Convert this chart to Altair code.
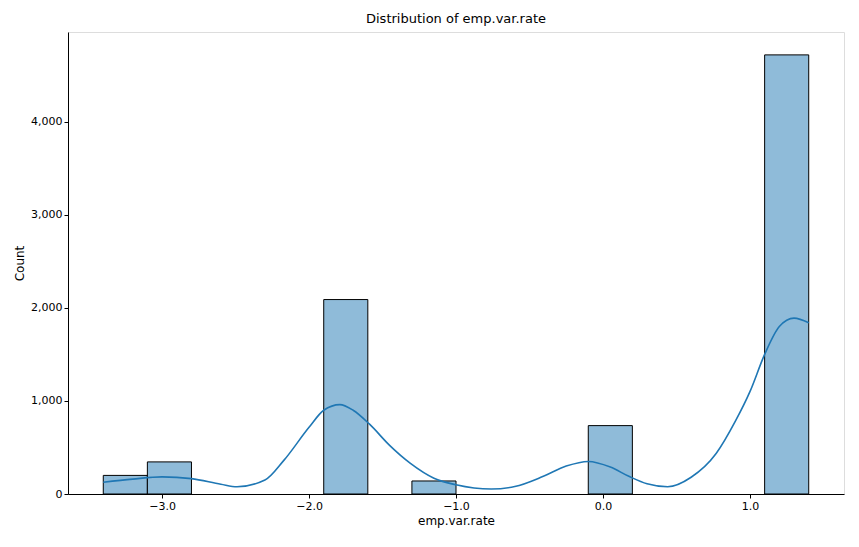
import pandas as pd
import altair as alt

# histogram bins (width 0.3) and counts
bin_start = [-3.4, -3.1, -1.9, -1.3, -0.1, 1.1]
bin_end = [-3.1, -2.8, -1.6, -1.0, 0.2, 1.4]
counts = [200, 345, 2090, 140, 735, 4720]

# kde curve
kde_x = [-3.4, -3.2, -3.0, -2.8, -2.6, -2.49, -2.3, -2.17, -2.0, -1.9, -1.79, -1.7, -1.59,
         -1.45, -1.31, -1.15, -1.0, -0.76, -0.6, -0.41, -0.25, -0.1, 0.05, 0.18, 0.3, 0.44,
         0.6, 0.77, 0.9, 1.0, 1.1, 1.2, 1.3, 1.4]
kde_y = [127, 160, 184, 165, 105, 78, 150, 364, 717, 900, 961, 900, 753,
         520, 329, 170, 99, 53, 80, 187, 300, 350, 290, 187, 110, 78,
         180, 435, 780, 1100, 1500, 1800, 1890, 1840]

bars_df = pd.DataFrame({"x0": bin_start, "x1": bin_end, "count": counts})
kde_df = pd.DataFrame({"x": kde_x, "y": kde_y})

xscale = alt.Scale(domain=[-3.64, 1.64], nice=False, zero=False)
yscale = alt.Scale(domain=[0, 4966], nice=False)

xaxis = alt.Axis(values=[-3, -2, -1, 0, 1], grid=False, tickColor="black", domainColor="black",
                 labelColor="black", titleColor="black", labelFontSize=11, titleFontSize=12,
                 titleFontWeight="normal", tickSize=4, labelPadding=2)
yaxis = alt.Axis(values=[0, 1000, 2000, 3000, 4000], grid=False, tickColor="black",
                 domainColor="black", labelColor="black", titleColor="black", labelFontSize=11,
                 titleFontSize=12, titleFontWeight="normal", tickSize=4, labelPadding=2)

bars = alt.Chart(bars_df).mark_rect(color="#8fbbd9", stroke="black", strokeWidth=1).encode(
    x=alt.X("x0:Q", scale=xscale, axis=xaxis, title="emp.var.rate"),
    x2="x1:Q",
    y=alt.Y("count:Q", scale=yscale, axis=yaxis, title="Count"),
    y2=alt.datum(0),
)

kde = alt.Chart(kde_df).mark_line(color="#1f77b4", strokeWidth=1.6, interpolate="monotone").encode(
    x=alt.X("x:Q", scale=xscale),
    y=alt.Y("y:Q", scale=yscale),
)

chart = (bars + kde).properties(
    width=776, height=462,
    title=alt.TitleParams("Distribution of emp.var.rate", fontSize=13, fontWeight="normal",
                          color="black", offset=6),
).configure_view(stroke="black", strokeWidth=1).configure(font="DejaVu Sans")

chart.save("out.html", embed_options={"renderer": "svg", "actions": False})
